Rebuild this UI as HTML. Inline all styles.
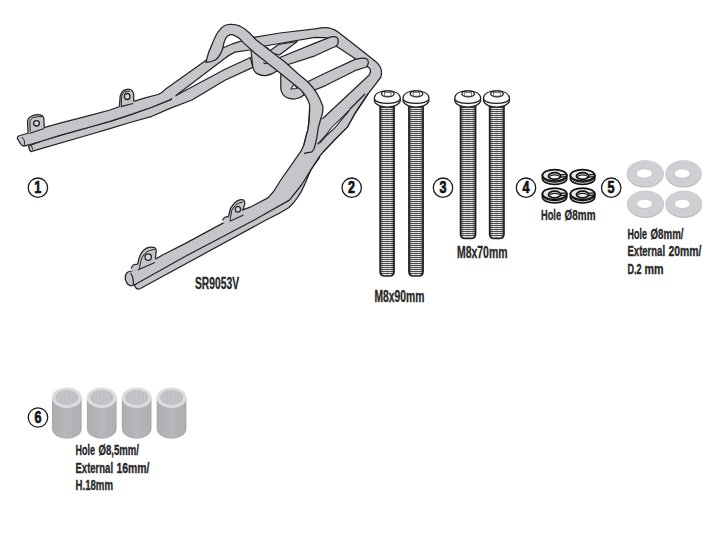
<!DOCTYPE html>
<html><head><meta charset="utf-8">
<style>
html,body{margin:0;padding:0;background:#fff;}
body{width:711px;height:558px;overflow:hidden;}
svg{display:block;}
text{font-family:"Liberation Sans",sans-serif;font-weight:bold;fill:#262626;}
.lab text{stroke:#262626;stroke-width:0.3;}
.n{stroke:#111;stroke-width:0.7;fill:#111;}
</style></head><body>
<svg width="711" height="558" viewBox="0 0 711 558">
<defs>
<linearGradient id="shk" x1="0" x2="1" y1="0" y2="0">
<stop offset="0" stop-color="#555"/>
<stop offset="0.12" stop-color="#aaa"/>
<stop offset="0.28" stop-color="#f2f2f2"/>
<stop offset="0.5" stop-color="#cfcfcf"/>
<stop offset="0.72" stop-color="#f2f2f2"/>
<stop offset="0.88" stop-color="#aaa"/>
<stop offset="1" stop-color="#555"/>
</linearGradient>
<pattern id="thr" patternUnits="userSpaceOnUse" x="0" y="0.3" width="40" height="2">
<rect width="40" height="2" fill="#e6e6e6"/>
<rect y="0" width="40" height="0.95" fill="#2a2a2a"/>
</pattern>
<linearGradient id="spc" x1="0" x2="1" y1="0" y2="0">
<stop offset="0" stop-color="#a9a9ad"/>
<stop offset="0.5" stop-color="#b5b5b9"/>
<stop offset="1" stop-color="#aaaaae"/>
</linearGradient>
</defs>
<g stroke="#232328" stroke-width="1.25" stroke-linejoin="round" fill="#c6c6ca">
<path d="M28.6,146 L42,141 L60,135.3 L90,127 L110,121.4 L130,114.8 L152.4,107 L170,99.9 L176,95.5 L225,69.3 L250.5,57.5 L252.8,67.4 L225,80.3 L192,100 L170,108.4 L152,116.3 L130,122.5 L110,128.6 L90,134.5 L42,148.3 L31,151.6 Q29.6,150.5 29.6,150 Z"/>
<path d="M30.6,145 Q32.5,147 32.6,149.6" fill="none" stroke-width="1"/>
<path d="M250.5,46 L252.8,66.8 Q254,72.5 258,74.2 Q262,76 266,75.6 Q271.5,74.8 277,71 L268,48 Z"/>
<path d="M280.8,72 L280.8,89 Q282,95.5 286.6,97.5 Q290,99.2 295,99 Q300.5,98.2 304,95 L297,74 Z"/>
<path d="M263.4,62.5 Q265,64.8 267,62.5" fill="none" stroke-width="1.2"/>
<path d="M291,89 L297,88.5 L294,84 Z" fill="#fff" stroke-width="1.1"/>
<path d="M17.3,138.5 Q17.5,136.5 18.5,136 L28.6,133 L43.9,127.7 L60,123.2 L90,115.4 L110,110 L133.7,101.4 L146,97.6 L158,94.5 Q162,93 165,89.6 L204.7,61.3 L222.7,48 Q232,43.5 241,41.1 L253.4,37.4 L280,33 L315,28.8 L321,27.8 Q331,26.5 338,32 L356,46 L375,61 Q384,68 380.6,77.5 L375,84.9 L368.2,93.7 L354.4,114.4 L347.3,127.1 L334.4,140 L323.6,151.5 L316,146 L320.9,120.3 L369.2,75 Q372,70 368.6,67.6 L355.8,59 L337.1,46.8 L333,42 Q330,38 325,37.7 L315,37.3 L276.2,44 L264.3,46.1 L249.7,50 L235,52.1 Q229,55 225,58.3 L176,95.5 L170,99.9 L152.4,107 L130,114.8 L110,121.4 L90,127 L60,135.3 L42,141 L30,144.6 L23.5,146.1 Q21,145.5 20.5,143.6 Z"/>
<path d="M22,137 Q25,140 24.5,143 L24,146" fill="none" stroke-width="1"/>
<path d="M171.8,97.2 L175.3,94.9 L176.2,97.8 L172.6,100 Z" stroke="none"/>
<path d="M268,52 L278.6,44.5 L297.2,41.5 L279.5,55 Z"/>
<path d="M275,59.5 L315,43.2 L331,36.8 Q338.5,35.5 338.3,41.5 Q338,46.5 333,47.5 L315,55.8 L282,66.5 Z"/>
<path d="M300,85.5 L325,73.2 L355,59.4 L360.5,58.3 Q368.5,57 368.3,62.5 Q368,67.5 363,68 L355,70.7 L325,85.8 L307,93 Z"/>
<path d="M205.9,62.3 Q208,52 212.8,42.6 Q216,34 219.7,29.8 Q224,24.5 229.6,24.4 Q235,24 239.4,25.8 Q245,28.5 249.3,32.7 L256.3,40 L285,62 L297.2,73 L308,82 Q318,92 322.9,106.5 Q323,114 320.9,118.3 L319,130 L317.7,145 Q316.5,151 311,152.5 L304,153.2 L303.9,145 L306.4,135 L308,129.4 Q310,112 309.5,104 Q306,95 301,90 L275.7,69.5 L255,53.2 L243.3,42.6 Q239,37.5 236.5,36.7 Q233.5,34.5 230.5,34.7 Q227,35.5 225.6,38.6 Q223.5,43 222.7,48.5 Q221.5,51.5 220.7,53.4 Q217.5,59 214.8,60.3 Q210,62.5 205.9,62.3 Z"/>
<path d="M128,272 L137.7,269 L155.4,259.1 L164,254.3 L185,243.6 L223.9,222.6 L242.3,210.2 L250,207.2 L267.9,197.9 L273.6,191.5 L280.8,180 L300.8,151.4 L303.9,145 L306.4,135 L308,129.4 L310.5,124 L322,119 L354.4,114.4 L347.3,127.1 L334.4,140 L323.6,151.5 L320.1,155.7 L310.8,170.1 L304.4,185 Q299,198 289,207.5 Q279,214 266.5,219.8 L139.5,289 Q135.5,289.6 134.5,284 L133.3,285.5 Q128,287 125.5,280 Q124.5,274 128,272 Z" stroke="none"/>
<g fill="none">
<path d="M125.5,280 Q124.5,274 128,272 L137.7,269 L155.4,259.1 L164,254.3 L185,243.6 L223.9,222.6 L242.3,210.2 L250,207.2 L267.9,197.9 L273.6,191.5 L280.8,180 L300.8,151.4 L303.9,145 L306.4,135 L308,129.4 Q309.5,118 309.5,110"/>
<path d="M130.5,273 Q134,278 133.3,285.5"/>
<path d="M125.5,280 Q128,287 133.3,285.5 M134.5,284 Q135,289.6 139.5,289"/>
<path d="M368.2,93.7 L354.4,114.4 L347.3,127.1 L334.4,140 L323.6,151.5 L320.1,155.7 L310.8,170.1 L304.4,185 Q299,198 289,207.5 Q279,214 266.5,219.8 L139.5,289"/>
<path d="M304,153.4 L311.9,151.8 Q314.5,149.5 315,145.6 L316.9,137.4 L318.2,128 L320.9,118.3"/>
<path d="M133.3,285.5 L185,256.5 L254.3,220 L289.4,200.1 L301.5,185 L312,168 L320,157"/>

<path d="M319.5,143 L325.9,136 L334.5,128 L349.5,110"/>
<path d="M317.5,144.3 L320.7,141.2 L325.7,135.5 L331.3,128 L347.5,112.4"/>
<path d="M365.2,93.7 L349.5,109.5"/>
</g>
<path d="M347.5,112.4 L331.3,128 L325.7,135.5 L334.5,128 L349.5,110 Z" fill="#fff" stroke-width="0.8"/>
</g>
<path d="M28.1,133.2 L27.5,120.9 Q28.5,117.5 30.8,116.6 Q34,114.5 37.2,114.5 Q40.5,114.5 42,115.5 Q43.9,116.8 43.9,118.8 L44.2,127.8 L44.5,129.5 L28.5,134.2 Z" fill="#c6c6ca" stroke="none"/>
<path d="M28.1,133.2 L27.5,120.9 Q28.5,117.5 30.8,116.6 Q34,114.5 37.2,114.5 Q40.5,114.5 42,115.5 Q43.9,116.8 43.9,118.8 L44.2,127.8" fill="none" stroke="#232328" stroke-width="1.25"/>
<path d="M30.2,131.7 L29.9,121.4 Q31,118.5 32.9,117.7 Q37,116.2 42.6,116.6" fill="none" stroke="#232328" stroke-width="1.0"/>
<path d="M29.1,133.6 L44.2,128.4" fill="none" stroke="#232328" stroke-width="1.1"/>
<ellipse cx="36.5" cy="123.3" rx="2.9" ry="2.7" fill="#d8d8dc" stroke="#232328" stroke-width="1.3"/>
<path d="M119.4,106.4 L120.2,96 Q121.5,92 123.4,90.6 Q126,89 128.3,89 Q130.5,89 132,90.6 Q133.7,92.5 133.7,94.4 L133.7,101.2 L134,102.5 L119.6,107.2 Z" fill="#c6c6ca" stroke="none"/>
<path d="M119.4,106.4 L120.2,96 Q121.5,92 123.4,90.6 Q126,89 128.3,89 Q130.5,89 132,90.6 Q133.7,92.5 133.7,94.4 L133.7,101.2" fill="none" stroke="#232328" stroke-width="1.25"/>
<path d="M121.3,106.2 L121.6,96.5 Q122.6,93.2 124,92.2 Q127,90.9 129.9,91.1" fill="none" stroke="#232328" stroke-width="1.0"/>
<path d="M120.8,106.6 L133.1,103.5" fill="none" stroke="#232328" stroke-width="1.1"/>
<ellipse cx="127.2" cy="96.5" rx="2.8" ry="3.0" fill="#d8d8dc" stroke="#232328" stroke-width="1.3"/>
<path d="M131.2,268.6 Q132,265.8 133.4,265 Q135.5,264 137.7,264 L138.8,259.1 Q140,255 142,252.1 Q144,249.5 146.8,248.1 Q149,247 151.1,247 Q153.5,247 154.9,247.8 Q156.4,249 156.2,251.1 L155.4,258.8 L156,260.5 L138,270.5 L131.2,271 Z" fill="#c6c6ca" stroke="none"/>
<path d="M131.2,268.6 Q132,265.8 133.4,265 Q135.5,264 137.7,264 L138.8,259.1 Q140,255 142,252.1 Q144,249.5 146.8,248.1 Q149,247 151.1,247 Q153.5,247 154.9,247.8 Q156.4,249 156.2,251.1 L155.4,258.8" fill="none" stroke="#232328" stroke-width="1.25"/>
<path d="M139.3,268.8 L140.9,260.7 Q142,257 144.1,254.3 Q146.5,251.5 149.5,250.5 Q152,249.6 154.9,249.5" fill="none" stroke="#232328" stroke-width="1.0"/>
<path d="M137.7,269.9 L154.9,262.4" fill="none" stroke="#232328" stroke-width="1.1"/>
<ellipse cx="148.2" cy="257.1" rx="3.2" ry="3.3" fill="#d8d8dc" stroke="#232328" stroke-width="1.3"/>
<path d="M222.5,220.2 Q223.5,218 225.1,217.2 Q226.8,216.7 228.4,216.7 L230.5,208.6 Q232.5,205 234.8,202.7 Q237.5,200.3 240.7,199.7 Q243,199.5 244,200.5 Q245,201.8 244.8,203.8 L243.4,208.6 L242.3,210.3 L243.5,211.5 L230,222.5 L223,223 Z" fill="#c6c6ca" stroke="none"/>
<path d="M222.5,220.2 Q223.5,218 225.1,217.2 Q226.8,216.7 228.4,216.7 L230.5,208.6 Q232.5,205 234.8,202.7 Q237.5,200.3 240.7,199.7 Q243,199.5 244,200.5 Q245,201.8 244.8,203.8 L243.4,208.6 L242.3,210.3" fill="none" stroke="#232328" stroke-width="1.25"/>
<path d="M230,221.5 L231.6,210.7 Q233.5,206.5 236.4,204.3 Q239.5,202.3 242.9,202.1" fill="none" stroke="#232328" stroke-width="1.0"/>
<path d="M230.5,221 L243.4,215" fill="none" stroke="#232328" stroke-width="1.1"/>
<ellipse cx="237.9" cy="209.3" rx="2.6" ry="2.9" fill="#d8d8dc" stroke="#232328" stroke-width="1.3"/>
<path d="M380.1,104.7 L380.1,271.5 Q380.1,276.0 384.6,276.0 L389.6,276.0 Q394.1,276.0 394.1,271.5 L394.1,104.7 Z" fill="url(#shk)" stroke="none"/>
<path d="M380.10,105.50 L394.10,105.50 M380.10,107.50 L394.10,107.50 M380.10,109.50 L394.10,109.50 M380.10,111.50 L394.10,111.50 M380.10,113.50 L394.10,113.50 M380.10,115.50 L394.10,115.50 M380.10,117.50 L394.10,117.50 M380.10,119.50 L394.10,119.50 M380.10,121.50 L394.10,121.50 M380.10,123.50 L394.10,123.50 M380.10,125.50 L394.10,125.50 M380.10,127.50 L394.10,127.50 M380.10,129.50 L394.10,129.50 M380.10,131.50 L394.10,131.50 M380.10,133.50 L394.10,133.50 M380.10,135.50 L394.10,135.50 M380.10,137.50 L394.10,137.50 M380.10,139.50 L394.10,139.50 M380.10,141.50 L394.10,141.50 M380.10,143.50 L394.10,143.50 M380.10,145.50 L394.10,145.50 M380.10,147.50 L394.10,147.50 M380.10,149.50 L394.10,149.50 M380.10,151.50 L394.10,151.50 M380.10,153.50 L394.10,153.50 M380.10,155.50 L394.10,155.50 M380.10,157.50 L394.10,157.50 M380.10,159.50 L394.10,159.50 M380.10,161.50 L394.10,161.50 M380.10,163.50 L394.10,163.50 M380.10,165.50 L394.10,165.50 M380.10,167.50 L394.10,167.50 M380.10,169.50 L394.10,169.50 M380.10,171.50 L394.10,171.50 M380.10,173.50 L394.10,173.50 M380.10,175.50 L394.10,175.50 M380.10,177.50 L394.10,177.50 M380.10,179.50 L394.10,179.50 M380.10,181.50 L394.10,181.50 M380.10,183.50 L394.10,183.50 M380.10,185.50 L394.10,185.50 M380.10,187.50 L394.10,187.50 M380.10,189.50 L394.10,189.50 M380.10,191.50 L394.10,191.50 M380.10,193.50 L394.10,193.50 M380.10,195.50 L394.10,195.50 M380.10,197.50 L394.10,197.50 M380.10,199.50 L394.10,199.50 M380.10,201.50 L394.10,201.50 M380.10,203.50 L394.10,203.50 M380.10,205.50 L394.10,205.50 M380.10,207.50 L394.10,207.50 M380.10,209.50 L394.10,209.50 M380.10,211.50 L394.10,211.50 M380.10,213.50 L394.10,213.50 M380.10,215.50 L394.10,215.50 M380.10,217.50 L394.10,217.50 M380.10,219.50 L394.10,219.50 M380.10,221.50 L394.10,221.50 M380.10,223.50 L394.10,223.50 M380.10,225.50 L394.10,225.50 M380.10,227.50 L394.10,227.50 M380.10,229.50 L394.10,229.50 M380.10,231.50 L394.10,231.50 M380.10,233.50 L394.10,233.50 M380.10,235.50 L394.10,235.50 M380.10,237.50 L394.10,237.50 M380.10,239.50 L394.10,239.50 M380.10,241.50 L394.10,241.50 M380.10,243.50 L394.10,243.50 M380.10,245.50 L394.10,245.50 M380.10,247.50 L394.10,247.50 M380.10,249.50 L394.10,249.50 M380.10,251.50 L394.10,251.50 M380.10,253.50 L394.10,253.50 M380.10,255.50 L394.10,255.50 M380.10,257.50 L394.10,257.50 M380.10,259.50 L394.10,259.50 M380.10,261.50 L394.10,261.50 M380.10,263.50 L394.10,263.50 M380.10,265.50 L394.10,265.50 M380.10,267.50 L394.10,267.50 M380.10,269.50 L394.10,269.50 M380.10,271.50 L394.10,271.50 M380.57,273.50 L393.63,273.50" fill="none" stroke="#3a3a3a" stroke-width="0.9"/>
<path d="M380.1,104.7 L380.1,271.5 Q380.1,276.0 384.6,276.0 L389.6,276.0 Q394.1,276.0 394.1,271.5 L394.1,104.7 Z" fill="none" stroke="#1e1e1e" stroke-width="1.6"/>
<path d="M374.3,98.8 C374.3,93.2 380.3,90.8 387.3,90.8 C394.3,90.8 400.3,93.2 400.3,98.8 L400.1,101.5 C398.8,105.0 393.3,107.2 387.3,107.2 C381.3,107.2 375.8,105.0 374.5,101.5 Z" fill="#fafafa" stroke="#1e1e1e" stroke-width="1.3"/>
<path d="M374.5,99.3 C376.3,102.0 381.3,103.4 387.3,103.4 C393.3,103.4 398.3,102.0 400.1,99.3" fill="none" stroke="#1e1e1e" stroke-width="1.2"/>
<ellipse cx="387.8" cy="93.8" rx="6.3" ry="3.0" fill="#f4f4f4" stroke="#1e1e1e" stroke-width="1.3"/>
<rect x="384.40000000000003" y="92.5" width="6.6" height="3.6" fill="#fff" stroke="#444" stroke-width="0.7"/>
<path d="M408.9,104.7 L408.9,271.5 Q408.9,276.0 413.4,276.0 L418.6,276.0 Q423.1,276.0 423.1,271.5 L423.1,104.7 Z" fill="url(#shk)" stroke="none"/>
<path d="M408.90,105.50 L423.10,105.50 M408.90,107.50 L423.10,107.50 M408.90,109.50 L423.10,109.50 M408.90,111.50 L423.10,111.50 M408.90,113.50 L423.10,113.50 M408.90,115.50 L423.10,115.50 M408.90,117.50 L423.10,117.50 M408.90,119.50 L423.10,119.50 M408.90,121.50 L423.10,121.50 M408.90,123.50 L423.10,123.50 M408.90,125.50 L423.10,125.50 M408.90,127.50 L423.10,127.50 M408.90,129.50 L423.10,129.50 M408.90,131.50 L423.10,131.50 M408.90,133.50 L423.10,133.50 M408.90,135.50 L423.10,135.50 M408.90,137.50 L423.10,137.50 M408.90,139.50 L423.10,139.50 M408.90,141.50 L423.10,141.50 M408.90,143.50 L423.10,143.50 M408.90,145.50 L423.10,145.50 M408.90,147.50 L423.10,147.50 M408.90,149.50 L423.10,149.50 M408.90,151.50 L423.10,151.50 M408.90,153.50 L423.10,153.50 M408.90,155.50 L423.10,155.50 M408.90,157.50 L423.10,157.50 M408.90,159.50 L423.10,159.50 M408.90,161.50 L423.10,161.50 M408.90,163.50 L423.10,163.50 M408.90,165.50 L423.10,165.50 M408.90,167.50 L423.10,167.50 M408.90,169.50 L423.10,169.50 M408.90,171.50 L423.10,171.50 M408.90,173.50 L423.10,173.50 M408.90,175.50 L423.10,175.50 M408.90,177.50 L423.10,177.50 M408.90,179.50 L423.10,179.50 M408.90,181.50 L423.10,181.50 M408.90,183.50 L423.10,183.50 M408.90,185.50 L423.10,185.50 M408.90,187.50 L423.10,187.50 M408.90,189.50 L423.10,189.50 M408.90,191.50 L423.10,191.50 M408.90,193.50 L423.10,193.50 M408.90,195.50 L423.10,195.50 M408.90,197.50 L423.10,197.50 M408.90,199.50 L423.10,199.50 M408.90,201.50 L423.10,201.50 M408.90,203.50 L423.10,203.50 M408.90,205.50 L423.10,205.50 M408.90,207.50 L423.10,207.50 M408.90,209.50 L423.10,209.50 M408.90,211.50 L423.10,211.50 M408.90,213.50 L423.10,213.50 M408.90,215.50 L423.10,215.50 M408.90,217.50 L423.10,217.50 M408.90,219.50 L423.10,219.50 M408.90,221.50 L423.10,221.50 M408.90,223.50 L423.10,223.50 M408.90,225.50 L423.10,225.50 M408.90,227.50 L423.10,227.50 M408.90,229.50 L423.10,229.50 M408.90,231.50 L423.10,231.50 M408.90,233.50 L423.10,233.50 M408.90,235.50 L423.10,235.50 M408.90,237.50 L423.10,237.50 M408.90,239.50 L423.10,239.50 M408.90,241.50 L423.10,241.50 M408.90,243.50 L423.10,243.50 M408.90,245.50 L423.10,245.50 M408.90,247.50 L423.10,247.50 M408.90,249.50 L423.10,249.50 M408.90,251.50 L423.10,251.50 M408.90,253.50 L423.10,253.50 M408.90,255.50 L423.10,255.50 M408.90,257.50 L423.10,257.50 M408.90,259.50 L423.10,259.50 M408.90,261.50 L423.10,261.50 M408.90,263.50 L423.10,263.50 M408.90,265.50 L423.10,265.50 M408.90,267.50 L423.10,267.50 M408.90,269.50 L423.10,269.50 M408.90,271.50 L423.10,271.50 M409.37,273.50 L422.63,273.50" fill="none" stroke="#3a3a3a" stroke-width="0.9"/>
<path d="M408.9,104.7 L408.9,271.5 Q408.9,276.0 413.4,276.0 L418.6,276.0 Q423.1,276.0 423.1,271.5 L423.1,104.7 Z" fill="none" stroke="#1e1e1e" stroke-width="1.6"/>
<path d="M403.0,98.8 C403.0,93.2 409.0,90.8 416.0,90.8 C423.0,90.8 429.0,93.2 429.0,98.8 L428.8,101.5 C427.5,105.0 422.0,107.2 416.0,107.2 C410.0,107.2 404.5,105.0 403.2,101.5 Z" fill="#fafafa" stroke="#1e1e1e" stroke-width="1.3"/>
<path d="M403.2,99.3 C405.0,102.0 410.0,103.4 416.0,103.4 C422.0,103.4 427.0,102.0 428.8,99.3" fill="none" stroke="#1e1e1e" stroke-width="1.2"/>
<ellipse cx="416.5" cy="93.8" rx="6.3" ry="3.0" fill="#f4f4f4" stroke="#1e1e1e" stroke-width="1.3"/>
<rect x="413.1" y="92.5" width="6.6" height="3.6" fill="#fff" stroke="#444" stroke-width="0.7"/>
<path d="M460.5,104.7 L460.5,233.9 Q460.5,238.4 465.0,238.4 L471.1,238.4 Q475.6,238.4 475.6,233.9 L475.6,104.7 Z" fill="url(#shk)" stroke="none"/>
<path d="M460.50,105.50 L475.60,105.50 M460.50,107.50 L475.60,107.50 M460.50,109.50 L475.60,109.50 M460.50,111.50 L475.60,111.50 M460.50,113.50 L475.60,113.50 M460.50,115.50 L475.60,115.50 M460.50,117.50 L475.60,117.50 M460.50,119.50 L475.60,119.50 M460.50,121.50 L475.60,121.50 M460.50,123.50 L475.60,123.50 M460.50,125.50 L475.60,125.50 M460.50,127.50 L475.60,127.50 M460.50,129.50 L475.60,129.50 M460.50,131.50 L475.60,131.50 M460.50,133.50 L475.60,133.50 M460.50,135.50 L475.60,135.50 M460.50,137.50 L475.60,137.50 M460.50,139.50 L475.60,139.50 M460.50,141.50 L475.60,141.50 M460.50,143.50 L475.60,143.50 M460.50,145.50 L475.60,145.50 M460.50,147.50 L475.60,147.50 M460.50,149.50 L475.60,149.50 M460.50,151.50 L475.60,151.50 M460.50,153.50 L475.60,153.50 M460.50,155.50 L475.60,155.50 M460.50,157.50 L475.60,157.50 M460.50,159.50 L475.60,159.50 M460.50,161.50 L475.60,161.50 M460.50,163.50 L475.60,163.50 M460.50,165.50 L475.60,165.50 M460.50,167.50 L475.60,167.50 M460.50,169.50 L475.60,169.50 M460.50,171.50 L475.60,171.50 M460.50,173.50 L475.60,173.50 M460.50,175.50 L475.60,175.50 M460.50,177.50 L475.60,177.50 M460.50,179.50 L475.60,179.50 M460.50,181.50 L475.60,181.50 M460.50,183.50 L475.60,183.50 M460.50,185.50 L475.60,185.50 M460.50,187.50 L475.60,187.50 M460.50,189.50 L475.60,189.50 M460.50,191.50 L475.60,191.50 M460.50,193.50 L475.60,193.50 M460.50,195.50 L475.60,195.50 M460.50,197.50 L475.60,197.50 M460.50,199.50 L475.60,199.50 M460.50,201.50 L475.60,201.50 M460.50,203.50 L475.60,203.50 M460.50,205.50 L475.60,205.50 M460.50,207.50 L475.60,207.50 M460.50,209.50 L475.60,209.50 M460.50,211.50 L475.60,211.50 M460.50,213.50 L475.60,213.50 M460.50,215.50 L475.60,215.50 M460.50,217.50 L475.60,217.50 M460.50,219.50 L475.60,219.50 M460.50,221.50 L475.60,221.50 M460.50,223.50 L475.60,223.50 M460.50,225.50 L475.60,225.50 M460.50,227.50 L475.60,227.50 M460.50,229.50 L475.60,229.50 M460.50,231.50 L475.60,231.50 M460.50,233.50 L475.60,233.50 M460.79,235.50 L475.31,235.50" fill="none" stroke="#3a3a3a" stroke-width="0.9"/>
<path d="M460.5,104.7 L460.5,233.9 Q460.5,238.4 465.0,238.4 L471.1,238.4 Q475.6,238.4 475.6,233.9 L475.6,104.7 Z" fill="none" stroke="#1e1e1e" stroke-width="1.6"/>
<path d="M454.7,98.8 C454.7,93.2 460.7,90.8 467.7,90.8 C474.7,90.8 480.7,93.2 480.7,98.8 L480.5,101.5 C479.2,105.0 473.7,107.2 467.7,107.2 C461.7,107.2 456.2,105.0 454.9,101.5 Z" fill="#fafafa" stroke="#1e1e1e" stroke-width="1.3"/>
<path d="M454.9,99.3 C456.7,102.0 461.7,103.4 467.7,103.4 C473.7,103.4 478.7,102.0 480.5,99.3" fill="none" stroke="#1e1e1e" stroke-width="1.2"/>
<ellipse cx="468.2" cy="93.8" rx="6.3" ry="3.0" fill="#f4f4f4" stroke="#1e1e1e" stroke-width="1.3"/>
<rect x="464.8" y="92.5" width="6.6" height="3.6" fill="#fff" stroke="#444" stroke-width="0.7"/>
<path d="M489.6,104.7 L489.6,233.9 Q489.6,238.4 494.1,238.4 L499.5,238.4 Q504.0,238.4 504.0,233.9 L504.0,104.7 Z" fill="url(#shk)" stroke="none"/>
<path d="M489.60,105.50 L504.00,105.50 M489.60,107.50 L504.00,107.50 M489.60,109.50 L504.00,109.50 M489.60,111.50 L504.00,111.50 M489.60,113.50 L504.00,113.50 M489.60,115.50 L504.00,115.50 M489.60,117.50 L504.00,117.50 M489.60,119.50 L504.00,119.50 M489.60,121.50 L504.00,121.50 M489.60,123.50 L504.00,123.50 M489.60,125.50 L504.00,125.50 M489.60,127.50 L504.00,127.50 M489.60,129.50 L504.00,129.50 M489.60,131.50 L504.00,131.50 M489.60,133.50 L504.00,133.50 M489.60,135.50 L504.00,135.50 M489.60,137.50 L504.00,137.50 M489.60,139.50 L504.00,139.50 M489.60,141.50 L504.00,141.50 M489.60,143.50 L504.00,143.50 M489.60,145.50 L504.00,145.50 M489.60,147.50 L504.00,147.50 M489.60,149.50 L504.00,149.50 M489.60,151.50 L504.00,151.50 M489.60,153.50 L504.00,153.50 M489.60,155.50 L504.00,155.50 M489.60,157.50 L504.00,157.50 M489.60,159.50 L504.00,159.50 M489.60,161.50 L504.00,161.50 M489.60,163.50 L504.00,163.50 M489.60,165.50 L504.00,165.50 M489.60,167.50 L504.00,167.50 M489.60,169.50 L504.00,169.50 M489.60,171.50 L504.00,171.50 M489.60,173.50 L504.00,173.50 M489.60,175.50 L504.00,175.50 M489.60,177.50 L504.00,177.50 M489.60,179.50 L504.00,179.50 M489.60,181.50 L504.00,181.50 M489.60,183.50 L504.00,183.50 M489.60,185.50 L504.00,185.50 M489.60,187.50 L504.00,187.50 M489.60,189.50 L504.00,189.50 M489.60,191.50 L504.00,191.50 M489.60,193.50 L504.00,193.50 M489.60,195.50 L504.00,195.50 M489.60,197.50 L504.00,197.50 M489.60,199.50 L504.00,199.50 M489.60,201.50 L504.00,201.50 M489.60,203.50 L504.00,203.50 M489.60,205.50 L504.00,205.50 M489.60,207.50 L504.00,207.50 M489.60,209.50 L504.00,209.50 M489.60,211.50 L504.00,211.50 M489.60,213.50 L504.00,213.50 M489.60,215.50 L504.00,215.50 M489.60,217.50 L504.00,217.50 M489.60,219.50 L504.00,219.50 M489.60,221.50 L504.00,221.50 M489.60,223.50 L504.00,223.50 M489.60,225.50 L504.00,225.50 M489.60,227.50 L504.00,227.50 M489.60,229.50 L504.00,229.50 M489.60,231.50 L504.00,231.50 M489.60,233.50 L504.00,233.50 M489.89,235.50 L503.71,235.50" fill="none" stroke="#3a3a3a" stroke-width="0.9"/>
<path d="M489.6,104.7 L489.6,233.9 Q489.6,238.4 494.1,238.4 L499.5,238.4 Q504.0,238.4 504.0,233.9 L504.0,104.7 Z" fill="none" stroke="#1e1e1e" stroke-width="1.6"/>
<path d="M483.5,98.8 C483.5,93.2 489.5,90.8 496.5,90.8 C503.5,90.8 509.5,93.2 509.5,98.8 L509.3,101.5 C508.0,105.0 502.5,107.2 496.5,107.2 C490.5,107.2 485.0,105.0 483.7,101.5 Z" fill="#fafafa" stroke="#1e1e1e" stroke-width="1.3"/>
<path d="M483.7,99.3 C485.5,102.0 490.5,103.4 496.5,103.4 C502.5,103.4 507.5,102.0 509.3,99.3" fill="none" stroke="#1e1e1e" stroke-width="1.2"/>
<ellipse cx="497.0" cy="93.8" rx="6.3" ry="3.0" fill="#f4f4f4" stroke="#1e1e1e" stroke-width="1.3"/>
<rect x="493.6" y="92.5" width="6.6" height="3.6" fill="#fff" stroke="#444" stroke-width="0.7"/>
<path d="M542.4,175.3 L542.4,178.8 A12.2,5.7 0 0 0 566.8000000000001,178.8 L566.8000000000001,175.3 Z" fill="#d0d0d0" stroke="#111" stroke-width="1.6"/>
<path d="M542.8,177.20000000000002 A11.899999999999999,5.7 0 0 0 566.4000000000001,177.20000000000002" fill="none" stroke="#111" stroke-width="1.2"/>
<ellipse cx="554.6" cy="175.3" rx="12.2" ry="5.7" fill="#e6e6e6" stroke="#111" stroke-width="1.7"/>
<ellipse cx="554.6" cy="176.0" rx="6.2" ry="3.3" fill="#fafafa" stroke="#111" stroke-width="1.7"/>
<path d="M549.8000000000001,177.0 A4.8,2.1 0 0 1 559.4,177.0" fill="none" stroke="#222" stroke-width="1.1"/>
<path d="M560.4,174.9 L566.4000000000001,174.3 M560.5,177.20000000000002 L566.5000000000001,176.70000000000002" stroke="#111" stroke-width="1.2"/>
<path d="M570.4,175.3 L570.4,178.8 A12.2,5.7 0 0 0 594.8000000000001,178.8 L594.8000000000001,175.3 Z" fill="#d0d0d0" stroke="#111" stroke-width="1.6"/>
<path d="M570.8,177.20000000000002 A11.899999999999999,5.7 0 0 0 594.4000000000001,177.20000000000002" fill="none" stroke="#111" stroke-width="1.2"/>
<ellipse cx="582.6" cy="175.3" rx="12.2" ry="5.7" fill="#e6e6e6" stroke="#111" stroke-width="1.7"/>
<ellipse cx="582.6" cy="176.0" rx="6.2" ry="3.3" fill="#fafafa" stroke="#111" stroke-width="1.7"/>
<path d="M577.8000000000001,177.0 A4.8,2.1 0 0 1 587.4,177.0" fill="none" stroke="#222" stroke-width="1.1"/>
<path d="M588.4,174.9 L594.4000000000001,174.3 M588.5,177.20000000000002 L594.5000000000001,176.70000000000002" stroke="#111" stroke-width="1.2"/>
<path d="M542.4,193.8 L542.4,197.3 A12.2,5.7 0 0 0 566.8000000000001,197.3 L566.8000000000001,193.8 Z" fill="#d0d0d0" stroke="#111" stroke-width="1.6"/>
<path d="M542.8,195.70000000000002 A11.899999999999999,5.7 0 0 0 566.4000000000001,195.70000000000002" fill="none" stroke="#111" stroke-width="1.2"/>
<ellipse cx="554.6" cy="193.8" rx="12.2" ry="5.7" fill="#e6e6e6" stroke="#111" stroke-width="1.7"/>
<ellipse cx="554.6" cy="194.5" rx="6.2" ry="3.3" fill="#fafafa" stroke="#111" stroke-width="1.7"/>
<path d="M549.8000000000001,195.5 A4.8,2.1 0 0 1 559.4,195.5" fill="none" stroke="#222" stroke-width="1.1"/>
<path d="M560.4,193.4 L566.4000000000001,192.8 M560.5,195.70000000000002 L566.5000000000001,195.20000000000002" stroke="#111" stroke-width="1.2"/>
<path d="M570.4,193.8 L570.4,197.3 A12.2,5.7 0 0 0 594.8000000000001,197.3 L594.8000000000001,193.8 Z" fill="#d0d0d0" stroke="#111" stroke-width="1.6"/>
<path d="M570.8,195.70000000000002 A11.899999999999999,5.7 0 0 0 594.4000000000001,195.70000000000002" fill="none" stroke="#111" stroke-width="1.2"/>
<ellipse cx="582.6" cy="193.8" rx="12.2" ry="5.7" fill="#e6e6e6" stroke="#111" stroke-width="1.7"/>
<ellipse cx="582.6" cy="194.5" rx="6.2" ry="3.3" fill="#fafafa" stroke="#111" stroke-width="1.7"/>
<path d="M577.8000000000001,195.5 A4.8,2.1 0 0 1 587.4,195.5" fill="none" stroke="#222" stroke-width="1.1"/>
<path d="M588.4,193.4 L594.4000000000001,192.8 M588.5,195.70000000000002 L594.5000000000001,195.20000000000002" stroke="#111" stroke-width="1.2"/>
<ellipse cx="645.2" cy="174.1" rx="18.6" ry="13.5" fill="#bdbdc1"/>
<ellipse cx="645.2" cy="173.3" rx="18.3" ry="13.1" fill="#d0d0d4"/>
<ellipse cx="644.2" cy="173.5" rx="8.0" ry="4.7" fill="#fff" stroke="#c2c2c6" stroke-width="0.9"/>
<ellipse cx="683.5" cy="174.1" rx="18.2" ry="13.5" fill="#bdbdc1"/>
<ellipse cx="683.5" cy="173.3" rx="17.9" ry="13.1" fill="#d0d0d4"/>
<ellipse cx="682.2" cy="173.5" rx="8.0" ry="4.7" fill="#fff" stroke="#c2c2c6" stroke-width="0.9"/>
<ellipse cx="645.5" cy="204.4" rx="18.5" ry="13.5" fill="#bdbdc1"/>
<ellipse cx="645.5" cy="203.60000000000002" rx="18.2" ry="13.1" fill="#d0d0d4"/>
<ellipse cx="644.5" cy="203.8" rx="8.0" ry="4.7" fill="#fff" stroke="#c2c2c6" stroke-width="0.9"/>
<ellipse cx="683.8" cy="204.4" rx="18.4" ry="13.5" fill="#bdbdc1"/>
<ellipse cx="683.8" cy="203.60000000000002" rx="18.099999999999998" ry="13.1" fill="#d0d0d4"/>
<ellipse cx="682.2" cy="203.8" rx="8.0" ry="4.7" fill="#fff" stroke="#c2c2c6" stroke-width="0.9"/>
<path d="M52.0,397.8 L52.0,428.6 A14.85,10.2 0 0 0 81.7,428.6 L81.7,397.8 Z" fill="url(#spc)"/>
<path d="M54.4,401.8 L54.4,432.9 M57.0,401.8 L57.0,435.1 M59.7,401.8 L59.7,436.3 M62.1,401.8 L62.1,437.1 M64.8,401.8 L64.8,437.5 M66.8,401.8 L66.8,437.6 M69.2,401.8 L69.2,437.5 M71.6,401.8 L71.6,437.1 M74.3,401.8 L74.3,436.2 M76.7,401.8 L76.7,435.1 M79.0,401.8 L79.0,433.2" stroke="#c6c6ca" stroke-width="0.7" opacity="0.6"/>
<ellipse cx="66.85" cy="397.8" rx="14.85" ry="10.2" fill="#dcdce0"/>
<ellipse cx="66.85" cy="397.5" rx="11.45" ry="7.6" fill="#bfbfc3"/>
<path d="M58.1,393.4 L58.1,401.6 M60.9,391.8 L60.9,403.2 M63.6,391.0 L63.6,404.0 M66.4,390.7 L66.4,404.3 M69.1,390.9 L69.1,404.1 M71.9,391.5 L71.9,403.5 M74.6,392.7 L74.6,402.3" stroke="#d2d2d6" stroke-width="0.7" opacity="0.8"/>
<path d="M86.9,397.8 L86.9,428.6 A14.85,10.2 0 0 0 116.60000000000001,428.6 L116.60000000000001,397.8 Z" fill="url(#spc)"/>
<path d="M89.3,401.8 L89.3,432.9 M91.9,401.8 L91.9,435.1 M94.6,401.8 L94.6,436.3 M97.0,401.8 L97.0,437.1 M99.7,401.8 L99.7,437.5 M101.8,401.8 L101.8,437.6 M104.1,401.8 L104.1,437.5 M106.5,401.8 L106.5,437.1 M109.2,401.8 L109.2,436.2 M111.6,401.8 L111.6,435.1 M113.9,401.8 L113.9,433.2" stroke="#c6c6ca" stroke-width="0.7" opacity="0.6"/>
<ellipse cx="101.75" cy="397.8" rx="14.85" ry="10.2" fill="#dcdce0"/>
<ellipse cx="101.75" cy="397.5" rx="11.45" ry="7.6" fill="#bfbfc3"/>
<path d="M93.0,393.4 L93.0,401.6 M95.8,391.8 L95.8,403.2 M98.5,391.0 L98.5,404.0 M101.3,390.7 L101.3,404.3 M104.0,390.9 L104.0,404.1 M106.8,391.5 L106.8,403.5 M109.5,392.7 L109.5,402.3" stroke="#d2d2d6" stroke-width="0.7" opacity="0.8"/>
<path d="M121.8,397.8 L121.8,428.6 A14.85,10.2 0 0 0 151.5,428.6 L151.5,397.8 Z" fill="url(#spc)"/>
<path d="M124.2,401.8 L124.2,432.9 M126.8,401.8 L126.8,435.1 M129.5,401.8 L129.5,436.3 M131.9,401.8 L131.9,437.1 M134.6,401.8 L134.6,437.5 M136.7,401.8 L136.7,437.6 M139.0,401.8 L139.0,437.5 M141.4,401.8 L141.4,437.1 M144.1,401.8 L144.1,436.2 M146.5,401.8 L146.5,435.1 M148.8,401.8 L148.8,433.2" stroke="#c6c6ca" stroke-width="0.7" opacity="0.6"/>
<ellipse cx="136.65" cy="397.8" rx="14.85" ry="10.2" fill="#dcdce0"/>
<ellipse cx="136.65" cy="397.5" rx="11.45" ry="7.6" fill="#bfbfc3"/>
<path d="M127.9,393.4 L127.9,401.6 M130.7,391.8 L130.7,403.2 M133.4,391.0 L133.4,404.0 M136.2,390.7 L136.2,404.3 M138.9,390.9 L138.9,404.1 M141.7,391.5 L141.7,403.5 M144.4,392.7 L144.4,402.3" stroke="#d2d2d6" stroke-width="0.7" opacity="0.8"/>
<path d="M156.7,397.8 L156.7,428.6 A14.85,10.2 0 0 0 186.39999999999998,428.6 L186.39999999999998,397.8 Z" fill="url(#spc)"/>
<path d="M159.1,401.8 L159.1,432.9 M161.7,401.8 L161.7,435.1 M164.4,401.8 L164.4,436.3 M166.8,401.8 L166.8,437.1 M169.5,401.8 L169.5,437.5 M171.5,401.8 L171.5,437.6 M173.9,401.8 L173.9,437.5 M176.3,401.8 L176.3,437.1 M179.0,401.8 L179.0,436.2 M181.4,401.8 L181.4,435.1 M183.7,401.8 L183.7,433.2" stroke="#c6c6ca" stroke-width="0.7" opacity="0.6"/>
<ellipse cx="171.54999999999998" cy="397.8" rx="14.85" ry="10.2" fill="#dcdce0"/>
<ellipse cx="171.54999999999998" cy="397.5" rx="11.45" ry="7.6" fill="#bfbfc3"/>
<path d="M162.8,393.4 L162.8,401.6 M165.6,391.8 L165.6,403.2 M168.3,391.0 L168.3,404.0 M171.1,390.7 L171.1,404.3 M173.8,390.9 L173.8,404.1 M176.6,391.5 L176.6,403.5 M179.3,392.7 L179.3,402.3" stroke="#d2d2d6" stroke-width="0.7" opacity="0.8"/>
<circle cx="37.9" cy="187.7" r="9.7" fill="#fff" stroke="#1a1a1a" stroke-width="1.3"/><text x="34.3" y="192.7" font-size="16.2" textLength="7.0" lengthAdjust="spacingAndGlyphs" class="n">1</text>
<circle cx="351.7" cy="187.7" r="9.7" fill="#fff" stroke="#1a1a1a" stroke-width="1.3"/><text x="348.09999999999997" y="192.7" font-size="16.2" textLength="7.0" lengthAdjust="spacingAndGlyphs" class="n">2</text>
<circle cx="443.0" cy="187.7" r="9.7" fill="#fff" stroke="#1a1a1a" stroke-width="1.3"/><text x="439.4" y="192.7" font-size="16.2" textLength="7.0" lengthAdjust="spacingAndGlyphs" class="n">3</text>
<circle cx="526.0" cy="187.7" r="9.7" fill="#fff" stroke="#1a1a1a" stroke-width="1.3"/><text x="522.4" y="192.7" font-size="16.2" textLength="7.0" lengthAdjust="spacingAndGlyphs" class="n">4</text>
<circle cx="611.2" cy="187.7" r="9.7" fill="#fff" stroke="#1a1a1a" stroke-width="1.3"/><text x="607.6" y="192.7" font-size="16.2" textLength="7.0" lengthAdjust="spacingAndGlyphs" class="n">5</text>
<circle cx="38.0" cy="417.5" r="9.7" fill="#fff" stroke="#1a1a1a" stroke-width="1.3"/><text x="34.4" y="422.5" font-size="16.2" textLength="7.0" lengthAdjust="spacingAndGlyphs" class="n">6</text>
<g class="lab"><text x="195.00" y="289.00" font-size="17.21" textLength="44.00" lengthAdjust="spacingAndGlyphs">SR9053V</text>
<text x="374.50" y="301.70" font-size="15.75" textLength="49.99" lengthAdjust="spacingAndGlyphs">M8x90mm</text>
<text x="457.00" y="257.70" font-size="16.48" textLength="50.50" lengthAdjust="spacingAndGlyphs">M8x70mm</text>
<text x="541.00" y="219.80" font-size="15.17" textLength="20.03" lengthAdjust="spacingAndGlyphs">Hole</text>
<text x="564.50" y="219.80" font-size="15.17" textLength="31.03" lengthAdjust="spacingAndGlyphs">Ø8mm</text>
<text x="627.50" y="238.60" font-size="14.29" textLength="19.49" lengthAdjust="spacingAndGlyphs">Hole</text>
<text x="650.50" y="238.60" font-size="14.29" textLength="33.01" lengthAdjust="spacingAndGlyphs">Ø8mm/</text>
<text x="627.50" y="256.00" font-size="14.29" textLength="37.52" lengthAdjust="spacingAndGlyphs">External</text>
<text x="668.50" y="256.00" font-size="14.29" textLength="33.01" lengthAdjust="spacingAndGlyphs">20mm/</text>
<text x="627.50" y="273.70" font-size="14.15" textLength="14.07" lengthAdjust="spacingAndGlyphs">D.2</text>
<text x="644.50" y="273.70" font-size="14.15" textLength="19.06" lengthAdjust="spacingAndGlyphs">mm</text>
<text x="75.50" y="455.40" font-size="13.71" textLength="19.53" lengthAdjust="spacingAndGlyphs">Hole</text>
<text x="98.50" y="455.40" font-size="13.71" textLength="40.50" lengthAdjust="spacingAndGlyphs">Ø8,5mm/</text>
<text x="75.50" y="472.80" font-size="14.00" textLength="37.52" lengthAdjust="spacingAndGlyphs">External</text>
<text x="116.50" y="472.80" font-size="14.00" textLength="33.00" lengthAdjust="spacingAndGlyphs">16mm/</text>
<text x="75.50" y="489.70" font-size="13.85" textLength="37.53" lengthAdjust="spacingAndGlyphs">H.18mm</text></g>
</svg>
</body></html>
